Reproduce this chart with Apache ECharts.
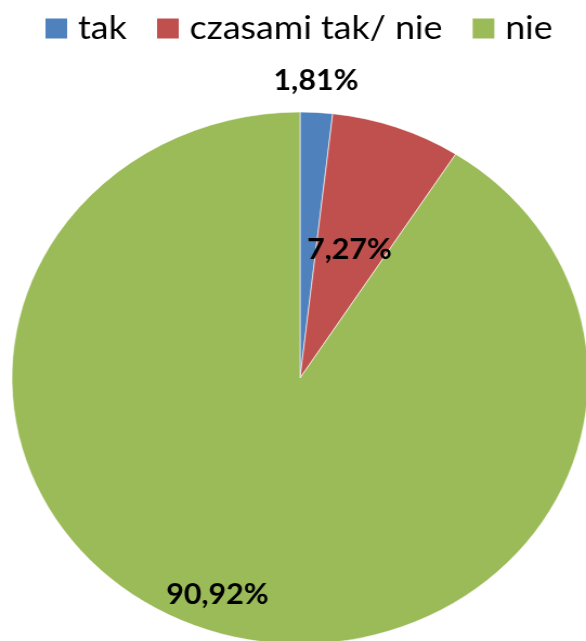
<!DOCTYPE html>
<html>
<head>
<meta charset="utf-8">
<script src="https://cdn.jsdelivr.net/npm/echarts@6/dist/echarts.min.js"></script>
<style>
html,body{margin:0;padding:0;background:#fff;overflow:hidden;}
#wrap{width:586px;height:641px;overflow:hidden;}
#chart{width:541px;height:641px;transform:scaleX(1.0832);transform-origin:0 0;}
</style>
</head>
<body>
<div id="wrap"><div id="chart"></div></div>
<script>
const categories = ['tak', 'czasami tak/ nie', 'nie'];
const values = [1.81, 7.27, 90.92];
const colors = ['#4F81BD', '#C0504D', '#9BBB59'];
const labelShift = [[7, -161], [0, 0], [-38, 86]];

const chart = echarts.init(document.getElementById('chart'), null, {renderer: 'canvas'});
chart.setOption({
  animation: false,
  color: colors,
  legend: {
    data: categories,
    top: 7,
    left: 35,
    itemWidth: 22,
    itemHeight: 22,
    itemGap: 26,
    icon: 'rect',
    selectedMode: false,
    textStyle: {fontFamily: 'Lato', fontSize: 33, color: '#000', padding: [0, 0, 0, 4]}
  },
  series: [{
    type: 'pie',
    center: [277, 378],
    radius: 266,
    startAngle: 90,
    clockwise: true,
    silent: true,
    itemStyle: {borderColor: '#ffffff', borderWidth: 0.6},
    label: {
      show: true,
      position: 'inside',
      fontFamily: 'Lato',
      fontWeight: 'bold',
      fontSize: 28,
      color: '#000',
      formatter: p => p.value.toFixed(2).replace('.', ',') + '%'
    },
    labelLine: {show: false},
    labelLayout: p => ({dx: labelShift[p.dataIndex][0], dy: labelShift[p.dataIndex][1]}),
    data: categories.map((c, i) => ({name: c, value: values[i]}))
  }]
});
</script>
</body>
</html>
